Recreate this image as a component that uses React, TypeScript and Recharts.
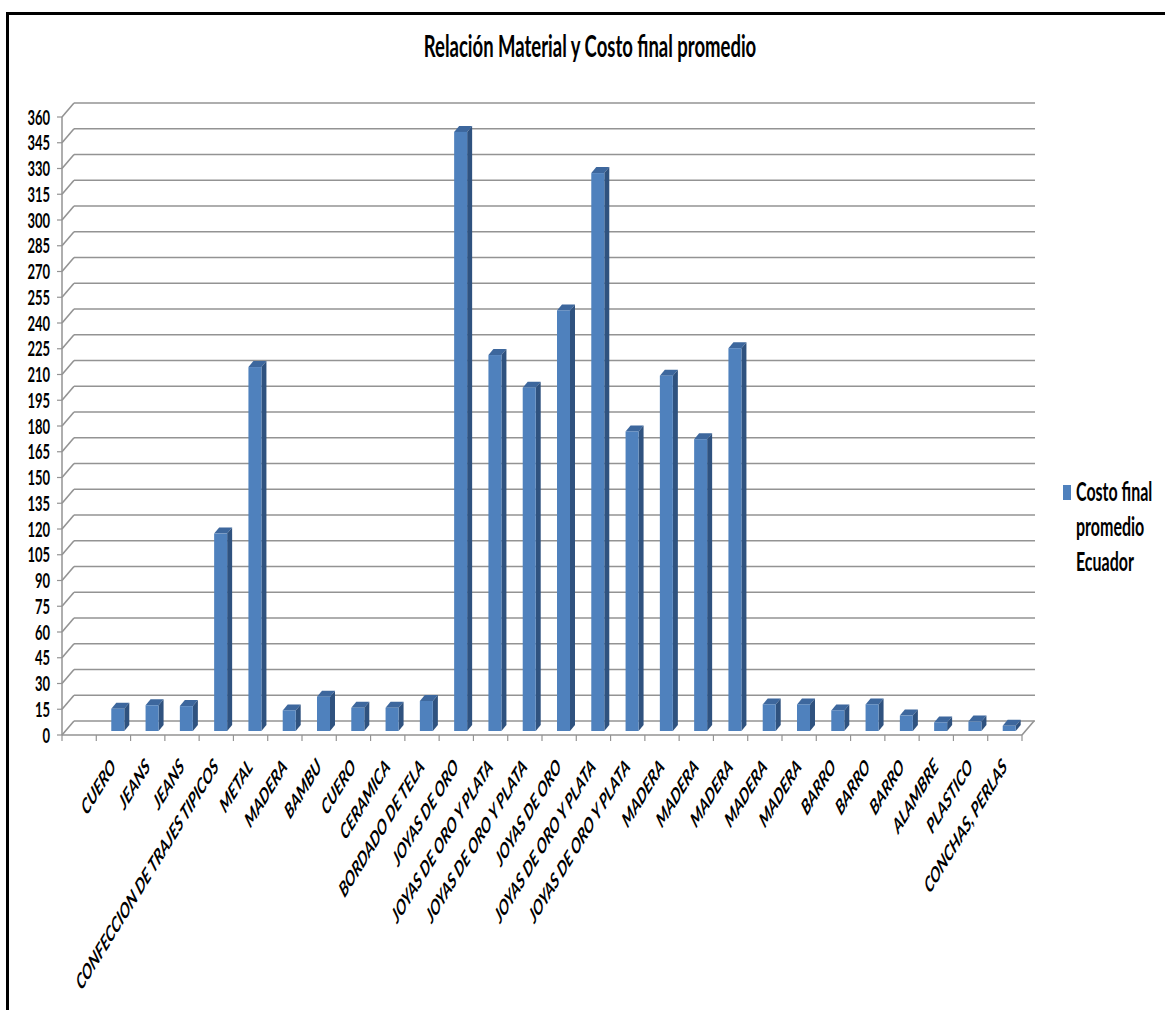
import React from 'react';
import { BarChart, Bar, XAxis, YAxis, CartesianGrid, Legend } from 'recharts';

// first slot is left blank in the original sheet
const materials = [
  '',
  'CUERO',
  'JEANS',
  'JEANS',
  'CONFECCION DE TRAJES TIPICOS',
  'METAL',
  'MADERA',
  'BAMBU',
  'CUERO',
  'CERAMICA',
  'BORDADO DE TELA',
  'JOYAS DE ORO',
  'JOYAS DE ORO Y PLATA',
  'JOYAS DE ORO Y PLATA',
  'JOYAS DE ORO',
  'JOYAS DE ORO Y PLATA',
  'JOYAS DE ORO Y PLATA',
  'MADERA',
  'MADERA',
  'MADERA',
  'MADERA',
  'MADERA',
  'BARRO',
  'BARRO',
  'BARRO',
  'ALAMBRE',
  'PLASTICO',
  'CONCHAS, PERLAS',
];

const costoFinal = [
  null, 13, 15, 14.5, 115, 212, 12, 20, 13.5, 13.5, 17.5,
  349, 219, 200, 245, 325, 174.5, 207, 170, 223,
  15.5, 15.5, 12, 15.5, 9, 5, 5.5, 3,
];

const yTicks = [0, 15, 30, 45, 60, 75, 90, 105, 120, 135, 150, 165, 180, 195, 210, 225, 240, 255, 270, 285, 300, 315, 330, 345, 360];

const seriesName = 'Costo final promedio Ecuador';
const legendLines = ['Costo final', 'promedio', 'Ecuador'];
const title = 'Relación Material y Costo final promedio';

const data = materials.map((m, i) => ({ id: i, material: m, costo: costoFinal[i] }));

const W = 1165;
const H = 1010;
const PLOT = { left: 62, right: 1022, top: 117, bottom: 735 };
const WALL_DX = 12;
const WALL_DY = -14;
const SY = 1.62; // the source picture is stretched vertically
const FONT = 'Lato, "Open Sans", sans-serif';
const GRID = '#939393';
const BLUE = '#4f81bd';

const half = (PLOT.right - PLOT.left) / materials.length / 2;

function Bar3D(props: any) {
  const { x, y, width, height } = props;
  if (!height || height <= 0) return null;
  const fx = x + 4;
  const fy = y - 4;
  const dx = 5;
  const dy = -6;
  return (
    <g>
      <polygon
        points={`${fx},${fy} ${fx + dx},${fy + dy} ${fx + width + dx},${fy + dy} ${fx + width},${fy}`}
        fill="#3d679d"
      />
      <polygon
        points={`${fx + width},${fy} ${fx + width + dx},${fy + dy} ${fx + width + dx},${fy + height + dy} ${fx + width},${fy + height}`}
        fill="#2f527f"
      />
      <rect x={fx} y={fy} width={width} height={height} fill={BLUE} />
    </g>
  );
}

const gridLine = (p: any) => {
  const { x1, y1, x2, key } = p;
  const isFloor = Math.abs(y1 - PLOT.bottom) < 1;
  return (
    <g key={key}>
      <line x1={x1} y1={y1} x2={x1 + WALL_DX} y2={y1 + WALL_DY} stroke={GRID} strokeWidth={1.6} />
      <line x1={x1 + WALL_DX} y1={y1 + WALL_DY} x2={x2 + WALL_DX + 1} y2={y1 + WALL_DY} stroke={GRID} strokeWidth={1.6} />
      {isFloor && <line x1={x2} y1={y1} x2={x2 + WALL_DX} y2={y1 + WALL_DY} stroke={GRID} strokeWidth={1.6} />}
    </g>
  );
};

const YTick = (props: any) => {
  const { x, y, payload } = props;
  return (
    <text
      transform={`translate(${x},${y}) scale(1,${SY})`}
      textAnchor="end"
      dy="0.36em"
      fontFamily={FONT}
      fontWeight="bold"
      fontSize={13}
      fill="#000"
    >
      {payload.value}
    </text>
  );
};

const XTick = (props: any) => {
  const { x, index } = props;
  const label = materials[index];
  return (
    <g>
      <line x1={x - half} y1={PLOT.bottom} x2={x - half} y2={PLOT.bottom + 6} stroke={GRID} strokeWidth={1.2} />
      {index === materials.length - 1 && (
        <line x1={x + half} y1={PLOT.bottom} x2={x + half} y2={PLOT.bottom + 6} stroke={GRID} strokeWidth={1.2} />
      )}
      {label && (
        <text
          transform={`translate(${x + 3},${PLOT.bottom + 33}) scale(1,${SY}) rotate(-45)`}
          textAnchor="end"
          fontFamily={FONT}
          fontWeight="bold"
          fontStyle="italic"
          fontSize={13.2}
          fill="#000"
        >
          {label}
        </text>
      )}
    </g>
  );
};

const LegendBox = () => (
  <svg width={106} height={110} style={{ display: 'block', overflow: 'visible' }}>
    <rect x={4} y={7} width={8} height={15} fill={BLUE} />
    {legendLines.map((t, i) => (
      <text
        key={t}
        transform={`translate(17,${23 + i * 35}) scale(1,${SY})`}
        fontFamily={FONT}
        fontWeight="bold"
        fontSize={16}
        fill="#000"
      >
        {t}
      </text>
    ))}
  </svg>
);

export default function App() {
  return (
    <div style={{ position: 'fixed', left: 0, top: 0, width: W, height: H, overflow: 'hidden', background: '#fff' }}>
      <div
        style={{
          position: 'absolute',
          left: 6,
          top: 12,
          width: 1400,
          height: 1400,
          border: '3px solid #000',
          boxSizing: 'border-box',
        }}
      />
      <svg width={W} height={80} style={{ position: 'absolute', left: 0, top: 0 }}>
        <text
          transform={`translate(590,57) scale(1,${SY})`}
          textAnchor="middle"
          fontFamily={FONT}
          fontWeight="bold"
          fontSize={18.5}
          fill="#000"
        >
          {title}
        </text>
      </svg>
      <div style={{ position: 'absolute', left: 0, top: 0 }}>
        <BarChart
          width={W}
          height={H}
          data={data}
          margin={{ top: PLOT.top, right: W - PLOT.right, bottom: H - PLOT.bottom - 30, left: 0 }}
        >
          <CartesianGrid horizontal={gridLine} vertical={false} />
          <XAxis
            dataKey="id"
            type="category"
            height={30}
            interval={0}
            tickLine={false}
            axisLine={{ stroke: GRID, strokeWidth: 1.5 }}
            tick={<XTick />}
          />
          <YAxis
            width={PLOT.left}
            domain={[0, 360]}
            ticks={yTicks}
            interval={0}
            tickSize={5}
            tickMargin={7}
            axisLine={{ stroke: GRID, strokeWidth: 1.5 }}
            tickLine={{ stroke: GRID, strokeWidth: 1.2 }}
            tick={<YTick />}
          />
          <Legend
            layout="horizontal"
            align="center"
            verticalAlign="middle"
            wrapperStyle={{ left: 1059, top: 478, width: 106 }}
            content={<LegendBox />}
          />
          <Bar
            dataKey="costo"
            name={seriesName}
            barSize={13}
            fill={BLUE}
            shape={<Bar3D />}
            isAnimationActive={false}
          />
        </BarChart>
      </div>
    </div>
  );
}
